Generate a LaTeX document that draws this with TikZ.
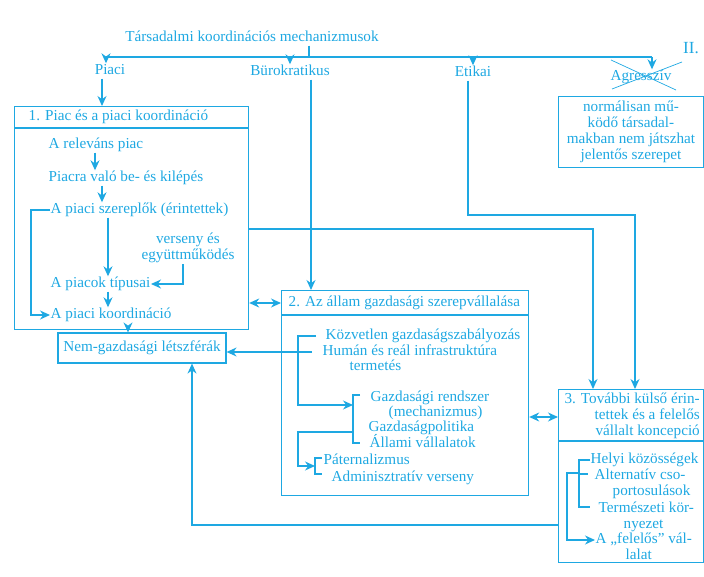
\documentclass[tikz,border=0pt]{standalone}
\usepackage{fontspec}
\setmainfont{Liberation Serif}
\usetikzlibrary{arrows.meta}
\definecolor{inkblue}{RGB}{30,168,226}
\tikzset{
  txt/.style={text=inkblue,font=\fontsize{15.2}{16}\selectfont,inner sep=1pt},
  lbl/.style={txt,text height=10.5pt,text depth=3.5pt,inner sep=.5pt},
  wire/.style={draw=inkblue,line width=1.2pt},
  arr/.style={wire,-{Stealth[length=10pt,width=9pt]}},
  darr/.style={wire,{Stealth[length=10pt,width=9pt]}-{Stealth[length=10pt,width=9pt]}},
  box/.style={draw=inkblue,line width=1.2pt,inner sep=0pt}
}
\begin{document}
\begin{tikzpicture}[x=1pt,y=-1pt]
  \useasboundingbox (0,0) rectangle (704,577);
   \coordinate (topL) at (106,57);
   \coordinate (topR) at (652,57);
   \coordinate (tick) at (309,57);
   \coordinate (ebend) at (635,215);
% top level
  \node[lbl] (title) at (252,38) {Társadalmi koordinációs mechanizmusok};
  \node[lbl] (piaci) at (110,71) {Piaci};
  \node[lbl] (burok) at (290,72) {Bürokratikus};
  \node[lbl] (etikai) at (473,73) {Etikai};
  \node[lbl] (agr) at (641,77) {Agresszív};
  \node[txt,font=\fontsize{17}{18}\selectfont] (roman) at (691,48) {II.};
 \draw[wire] (title.south -| tick) -- (tick);
 \draw[wire] (topL) -- (topR);
 \draw[arr] (topL) -- (topL |- piaci.north);
 \draw[arr] (burok.north |- topL) -- (burok.north);
 \draw[arr] (etikai.north |- topL) -- (etikai.north);
 \draw[arr] (topR) -- (topR |- agr.north);
 \draw[wire,line width=.7pt] (611,60) -- (676,90);
 \draw[wire,line width=.7pt] (612,89) -- (682,62);
  \node[box,txt,inner sep=0pt,minimum width=145,minimum height=71,align=center] (note) at (631,132)
       {normálisan mű-\\ködő társadal-\\makban nem játszhat\\jelentős szerepet};
% box 1
  \node[box,anchor=north west,minimum width=234,minimum height=223] (b1) at (14,106) {};
 \draw[wire] (b1.west |- 0,128) -- (b1.east |- 0,128);
  \node[lbl,anchor=west] (b1h) at (28,117) {1. Piac és a piaci koordináció};
  \node[lbl,anchor=west] (rel) at (48,145) {A releváns piac};
  \node[lbl,anchor=west] (belep) at (48,178) {Piacra való be- és kilépés};
  \node[lbl,anchor=west] (szer) at (50,210) {A piaci szereplők (érintettek)};
  \node[txt,align=center] (vers) at (188,248) {verseny és\\együttműködés};
  \node[lbl,anchor=west] (tipus) at (50,284) {A piacok típusai};
  \node[lbl,anchor=west] (koord) at (50,315) {A piaci koordináció};
 \draw[arr] (piaci.south -| 102,0) -- (b1.north -| 102,0);
 \draw[arr] (rel.south -| 95,0) -- (belep.north -| 95,0);
 \draw[arr] (belep.south -| 102,0) -- (szer.north -| 102,0);
 \draw[arr] (szer.south -| 108,0) -- (tipus.north -| 108,0);
 \draw[arr] (tipus.south -| 108,0) -- (koord.north -| 108,0);
 \draw[arr] ([xshift=-5pt]vers.south) |- (tipus.east);
 \draw[arr] (szer.west) -- ++(-19,0) |- (koord.west);
% non-economic spheres
  \node[box,txt,minimum width=168,minimum height=30] (nem) at (142,348) {Nem-gazdasági létszférák};
 \draw[arr] (b1.south -| 128,0) -- (nem.north -| 128,0);
% box 2
  \node[box,anchor=north west,minimum width=247,minimum height=205] (b2) at (281,290) {};
 \draw[wire] (b2.west |- 0,315) -- (b2.east |- 0,315);
  \node[lbl,anchor=west] (b2h) at (288,303) {2. Az állam gazdasági szerepvállalása};
  \node[lbl,anchor=west] (kozv) at (325,336) {Közvetlen gazdaságszabályozás};
  \node[lbl,anchor=west] (human) at (322,352) {Humán és reál infrastruktúra};
  \node[lbl,anchor=west] (term) at (349,367) {termetés};
  \node[lbl,anchor=west] (gaz1) at (370,398) {Gazdasági rendszer};
  \node[lbl,anchor=west] (gaz2) at (388,413) {(mechanizmus)};
  \node[lbl,anchor=west] (gaz3) at (368,428) {Gazdaságpolitika};
  \node[lbl,anchor=west] (gaz4) at (369,444) {Állami vállalatok};
  \node[lbl,anchor=west] (pater) at (323,461) {Páternalizmus};
  \node[lbl,anchor=west] (admin) at (331,478) {Adminisztratív verseny};
   \coordinate (gbrk) at (353,405);
   \coordinate (gmid) at (353,432);
   \coordinate (pbrk) at (315,466);
 \draw[wire] (360,395) -- (353,395) -- (353,443) -- (360,443);
 \draw[wire] (322,458) -- (315,458) -- (315,474) -- (322,474);
 \draw[arr] (burok.south -| 311,0) -- (b2.north -| 311,0);
 \draw[darr] (b1.east |- 0,303) -- (b2.west |- 0,303);
 \draw[arr] ([xshift=-9pt]kozv.west) -- (kozv.west -| 298,0) |- (gbrk);
 \draw[arr] (gmid) -- (gmid -| 298,0) |- (pbrk);
 \draw[arr] ([xshift=-10pt]human.west) -- (human.west -| nem.east);
% box 3
  \node[box,anchor=north west,minimum width=145,minimum height=173] (b3) at (558,389) {};
 \draw[wire] (b3.west |- 0,441) -- (b3.east |- 0,441);
  \node[txt,align=right,anchor=east] (b3h) at (701,416) {3. További külső érin-\\tettek és a felelős\\vállalt koncepció};
  \node[lbl,anchor=west] (helyi) at (590,460) {Helyi közösségek};
  \node[lbl,anchor=west] (alt) at (594,476) {Alternatív cso-};
  \node[lbl,anchor=west] (port) at (612,492) {portosulások};
  \node[lbl,anchor=west] (termsz) at (598,509) {Természeti kör-};
  \node[lbl,anchor=west] (nyez) at (623,525) {nyezet};
  \node[lbl,anchor=west] (fel) at (595,540) {A „felelős” vál-};
  \node[lbl,anchor=west] (lalat) at (625,556) {lalat};
   \coordinate (hmid) at (579,473);
 \draw[wire] (590,460) -- (579,460) -- (579,507) -- (590,507);
 \draw[wire] (579,474) -- (588,474);
 \draw[arr] (hmid) -- (hmid -| 567,0) |- (fel.west);
 \draw[arr] (b1.east |- 0,229) -| (b3.north -| 593,0);
 \draw[arr] (etikai.south -| 468,0) |- (ebend) -- (b3.north -| ebend);
 \draw[darr] (b2.east |- 0,417) -- (b3.west |- 0,417);
 \draw[arr] (b3.west |- 0,525) -| (nem.south -| 192,0);
 \end{tikzpicture}
\end{document}
